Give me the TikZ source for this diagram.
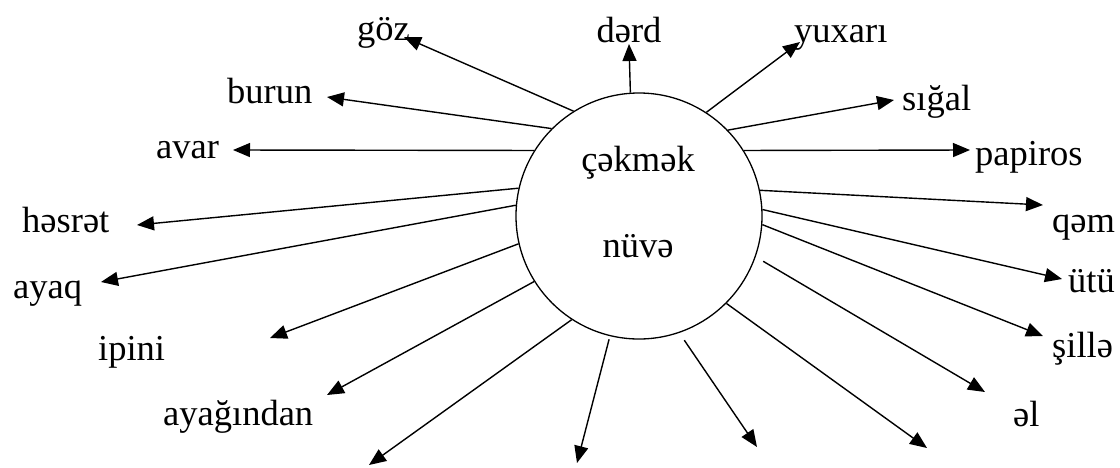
\documentclass[tikz,border=0pt]{standalone}
\usepackage{fontspec}
\setmainfont{Liberation Serif}
\usetikzlibrary{arrows.meta}

\tikzset{
  hubring/.style={circle, draw, line width=1.3pt, minimum size=246pt, inner sep=0pt},
  word/.style={inner sep=0pt, anchor=base west, font=\fontsize{36.5}{40}\selectfont},
  midword/.style={word, anchor=base},
  ray/.style={line width=1.4pt, -{Triangle[length=17pt,width=14pt]}}
}

\begin{document}
\begin{tikzpicture}[x=1pt, y=-1pt]
  \useasboundingbox (0,0) rectangle (1120,467);

  % central circle with its two words
  \node[hubring] (hub) at (639,216) {};
  \node[midword] (w0) at (638,171) {çəkmək};
  \node[midword] (w1) at (638,257) {nüvə};

  % labels
  \node[word]    (goz)  at (357,40)   {göz};
  \node[midword] (derd) at (629,42)   {dərd};
  \node[word]    (yux)  at (794,42)   {yuxarı};
  \node[word]    (bur)  at (227,103)  {burun};
  \node[word]    (sig)  at (902,110)  {sığal};
  \node[word]    (avar) at (156,158)  {avar};
  \node[word]    (pap)  at (975,165)  {papiros};
  \node[word]    (hes)  at (22,232)   {həsrət};
  \node[word]    (qem)  at (1052,232) {qəm};
  \node[word]    (ayaq) at (13,298)   {ayaq};
  \node[word]    (utu)  at (1068,292) {ütü};
  \node[word]    (ipi)  at (98,360)   {ipini};
  \node[word]    (sil)  at (1052,357) {şillə};
  \node[word]    (ayag) at (163,425)  {ayağından};
  \node[word]    (el)   at (1013,426) {əl};

  % arrow tips
  \coordinate (tgoz)  at (404,37);
  \coordinate (tderd) at (629,44);
  \coordinate (tyux)  at (800,42);
  \coordinate (tbur)  at (327,97);
  \coordinate (tsig)  at (894,100);
  \coordinate (tavar) at (233,150);
  \coordinate (tpap)  at (970,150);
  \coordinate (thes)  at (137,225);
  \coordinate (tqem)  at (1043,205);
  \coordinate (tayaq) at (101,282);
  \coordinate (tutu)  at (1062,279);
  \coordinate (tipi)  at (270,338);
  \coordinate (tsil)  at (1043,336);
  \coordinate (tayag) at (327,395);
  \coordinate (tel)   at (985,392);
  \coordinate (tb1)   at (369,465);
  \coordinate (tb2)   at (577,463);
  \coordinate (tb3)   at (757,447);
  \coordinate (tb4)   at (927,448);

  % rays from the circle
  \draw[ray] (hub.122.4) -- (tgoz);
  \draw[ray] (hub.94.6)  -- (tderd);
  \draw[ray] (hub.57.2)  -- (tyux);
  \draw[ray] (hub.135.3) -- (tbur);
  \draw[ray] (hub.44)    -- (tsig);
  \draw[ray] (hub.148.1) -- (tavar);
  \draw[ray] (hub.32.4)  -- (tpap);
  \draw[ray] (hub.167.2) -- (thes);
  \draw[ray] (hub.12.8)  -- (tqem);
  \draw[ray] (hub.175.8) -- (tayaq);
  \draw[ray] (hub.3.7)   -- (tutu);
  \draw[ray] (hub.193.3) -- (tipi);
  \draw[ray] (hub.-4.6)  -- (tsil);
  \draw[ray] (hub.212.5) -- (tayag);
  \draw[ray] ([xshift=8pt,yshift=-3pt]hub.-20.9) -- (tel);
  \draw[ray] (hub.237.2) -- (tb1);
  \draw[ray] ([yshift=-3.3pt]hub.256.7) -- (tb2);
  \draw[ray] ([xshift=3pt,yshift=-8pt]hub.290.9) -- (tb3);
  \draw[ray] (hub.315) -- (tb4);
\end{tikzpicture}
\end{document}
